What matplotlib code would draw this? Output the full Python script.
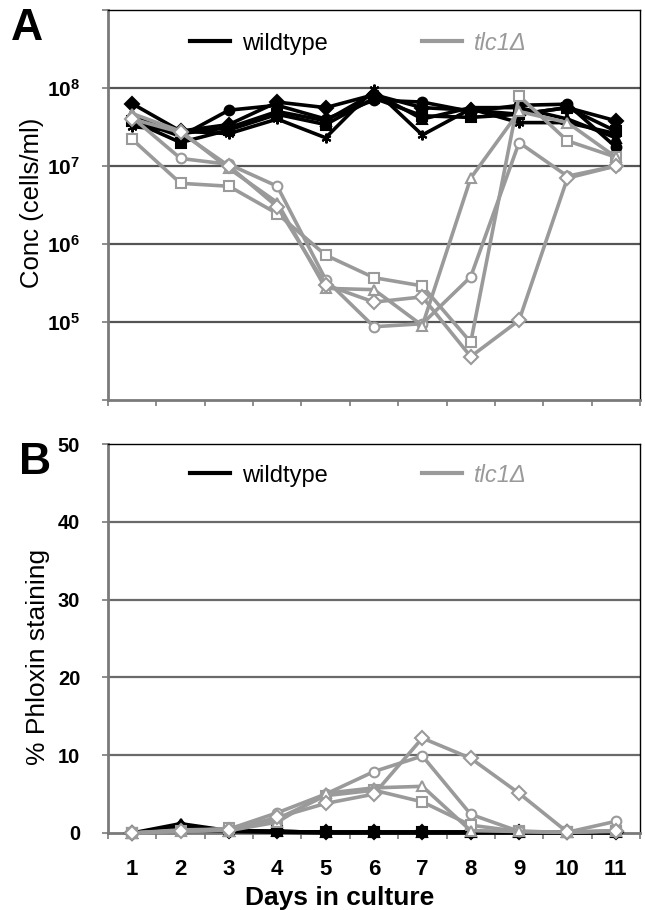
import matplotlib
matplotlib.use("Agg")
import matplotlib.pyplot as plt
from matplotlib.lines import Line2D
from matplotlib.ticker import FixedLocator, NullFormatter, FixedFormatter
import numpy as np

plt.rcParams['font.family'] = ['Liberation Sans', 'DejaVu Sans']
plt.rcParams['mathtext.fontset'] = 'custom'
plt.rcParams['mathtext.rm'] = 'Liberation Sans'
plt.rcParams['mathtext.bf'] = 'Liberation Sans:bold'

days = [1, 2, 3, 4, 5, 6, 7, 8, 9, 10, 11]

# Panel A: concentration (cells/ml)
wt_conc_diamond = [6.3e7, 2.8e7, 3.4e7, 6.6e7, 5.6e7, 8.2e7, 5.6e7, 5.2e7, 4.6e7, 5.6e7, 3.8e7]
wt_conc_square = [3.8e7, 2.0e7, 2.9e7, 4.6e7, 3.4e7, 7.4e7, 4.4e7, 4.2e7, 4.6e7, 5.6e7, 2.8e7]
wt_conc_triangle = [4.6e7, 2.6e7, 3.1e7, 5.0e7, 3.8e7, 8.6e7, 4.0e7, 5.6e7, 5.6e7, 4.0e7, 2.3e7]
wt_conc_star = [3.2e7, 2.8e7, 2.6e7, 4.0e7, 2.3e7, 9.6e7, 2.5e7, 5.4e7, 3.6e7, 3.6e7, 2.6e7]
wt_conc_circle = [4.0e7, 2.4e7, 5.2e7, 6.0e7, 4.0e7, 7.0e7, 6.6e7, 5.0e7, 6.0e7, 6.2e7, 1.75e7]

tlc_conc_square = [2.2e7, 6.0e6, 5.5e6, 2.45e6, 7.2e5, 3.7e5, 2.9e5, 5.5e4, 7.9e7, 2.1e7, 1.3e7]
tlc_conc_circle = [4.2e7, 1.25e7, 1.05e7, 5.5e6, 3.5e5, 8.7e4, 9.5e4, 3.8e5, 2.0e7, 7.4e6, 1.0e7]
tlc_conc_triangle = [4.7e7, 2.8e7, 9.3e6, 3.4e6, 2.7e5, 2.6e5, 9.0e4, 7.0e6, 5.0e7, 3.6e7, 1.3e7]
tlc_conc_diamond = [4.0e7, 2.7e7, 1.0e7, 3.0e6, 3.0e5, 1.8e5, 2.1e5, 3.6e4, 1.05e5, 7.0e6, 1.0e7]

# Panel B: % phloxin staining
wt_phlox_diamond = [0.0, 0.8, 0.3, 0.2, 0.1, 0.1, 0.1, 0.1, 0.1, 0.1, 0.1]
wt_phlox_square = [0.0, 0.5, 0.2, 0.2, 0.1, 0.1, 0.1, 0.1, 0.1, 0.1, 0.1]
wt_phlox_triangle = [0.0, 1.2, 0.3, 0.2, 0.1, 0.1, 0.1, 0.1, 0.1, 0.1, 0.1]
wt_phlox_star = [0.0, 0.6, 0.2, 0.1, 0.0, 0.0, 0.0, 0.0, 0.0, 0.0, 0.0]
wt_phlox_circle = [0.0, 0.4, 0.3, 0.2, 0.1, 0.1, 0.1, 0.1, 0.1, 0.1, 0.1]

tlc_phlox_circle = [0.0, 0.4, 0.5, 2.6, 5.0, 7.9, 9.9, 2.4, 0.2, 0.1, 1.5]
tlc_phlox_diamond = [0.0, 0.3, 0.4, 2.0, 3.8, 5.0, 12.2, 9.6, 5.1, 0.1, 0.2]
tlc_phlox_triangle = [0.0, 0.3, 0.3, 1.4, 5.1, 5.8, 6.0, 0.3, 0.2, 0.1, 0.3]
tlc_phlox_square = [0.0, 0.2, 0.6, 1.8, 4.8, 5.5, 4.0, 1.0, 0.2, 0.1, 0.3]

conc_ticks = [1e5, 1e6, 1e7, 1e8]
conc_tick_labels = [r'$\mathbf{10^{5}}$', r'$\mathbf{10^{6}}$', r'$\mathbf{10^{7}}$', r'$\mathbf{10^{8}}$']
phlox_ticks = [0, 10, 20, 30, 40, 50]

GRAY = '#9a9a9a'
BLACK = '#000000'
ASTER = (6, 2, 0)

wt_markers = ['D', 's', '^', ASTER, 'o']
tlc_markers = ['s', 'o', '^', 'D']

fig = plt.figure(figsize=(6.45, 9.1), dpi=100)
W, H = 645, 910
L, R = 108, 640
axA = fig.add_axes([L / W, (H - 400) / H, (R - L) / W, 390 / H])
axB = fig.add_axes([L / W, (H - 833) / H, (R - L) / W, 389 / H])


def style_axes(ax):
    for s in ['top', 'right']:
        ax.spines[s].set_color('black')
        ax.spines[s].set_linewidth(1.0)
    for s in ['left', 'bottom']:
        ax.spines[s].set_color('#7a7a7a')
        ax.spines[s].set_linewidth(2.0)
    ax.set_xlim(0.5, 11.5)
    ax.xaxis.set_major_locator(FixedLocator(days))
    ax.xaxis.set_minor_locator(FixedLocator(np.arange(0.5, 12.0, 1.0)))
    ax.tick_params(axis='x', which='major', length=0)
    ax.tick_params(axis='x', which='minor', length=4, width=1.2, color='#7a7a7a', direction='out')
    ax.tick_params(axis='y', which='major', length=4, width=1.2, color='#7a7a7a', direction='out', pad=16)
    ax.tick_params(axis='y', which='minor', length=0)


def draw_series(ax, wt_list, tlc_list):
    for vals, m in zip(wt_list, wt_markers):
        ax.plot(days, vals, color=BLACK, lw=2.6, marker=m, ms=7,
                mfc=BLACK, mec=BLACK, mew=1.5, clip_on=False, zorder=3)
    for vals, m in zip(tlc_list, tlc_markers):
        ax.plot(days, vals, color=GRAY, lw=2.6, marker=m, ms=7,
                mfc='white', mec=GRAY, mew=1.5, clip_on=False, zorder=4)


def add_legend(ax, y):
    handles = [Line2D([], [], color=BLACK, lw=3), Line2D([], [], color=GRAY, lw=3)]
    leg = ax.legend(handles, ['wildtype', 'tlc1Δ'], ncol=2, frameon=False,
                    loc='center', bbox_to_anchor=(0.47, y), fontsize=17,
                    handlelength=1.7, handletextpad=0.5, columnspacing=4.0)
    leg.get_texts()[1].set_color(GRAY)
    leg.get_texts()[1].set_style('italic')


# ---- Panel A ----
style_axes(axA)
axA.set_yscale('log')
axA.set_ylim(1e4, 1e9)
axA.yaxis.set_major_locator(FixedLocator([1e4] + conc_ticks + [1e9]))
axA.yaxis.set_major_formatter(FixedFormatter([''] + conc_tick_labels + ['']))
axA.yaxis.set_minor_locator(FixedLocator([]))
axA.yaxis.set_minor_formatter(NullFormatter())
axA.xaxis.set_major_formatter(NullFormatter())
for t in conc_ticks:
    axA.axhline(t, color='#555555', lw=1.6, zorder=1)
draw_series(axA,
            [wt_conc_diamond, wt_conc_square, wt_conc_triangle, wt_conc_star, wt_conc_circle],
            [tlc_conc_square, tlc_conc_circle, tlc_conc_triangle, tlc_conc_diamond])
for lab in axA.get_yticklabels():
    lab.set_fontsize(15)
axA.set_ylabel('Conc (cells/ml)', fontsize=18.5, va='center')
axA.yaxis.set_label_coords(-0.143, 0.505)
add_legend(axA, 0.915)

# ---- Panel B ----
style_axes(axB)
axB.set_ylim(0, 50)
axB.yaxis.set_major_locator(FixedLocator(phlox_ticks))
for t in phlox_ticks[1:-1]:
    axB.axhline(t, color='#6a6a6a', lw=1.6, zorder=1)
draw_series(axB,
            [wt_phlox_diamond, wt_phlox_square, wt_phlox_triangle, wt_phlox_star, wt_phlox_circle],
            [tlc_phlox_square, tlc_phlox_circle, tlc_phlox_triangle, tlc_phlox_diamond])
axB.set_xticklabels([str(d) for d in days], fontsize=16, fontweight='bold')
axB.tick_params(axis='x', which='major', pad=19)
for lab in axB.get_yticklabels():
    lab.set_fontsize(14.5)
    lab.set_fontweight('bold')
axB.set_ylabel('% Phloxin staining', fontsize=19, va='center')
axB.yaxis.set_label_coords(-0.132, 0.452)
axB.set_xlabel('Days in culture', fontsize=19, fontweight='bold', va='center')
axB.xaxis.set_label_coords(0.436, -0.168)
add_legend(axB, 0.92)

fig.text(27 / W, 1 - 28 / H, 'A', fontsize=32, fontweight='bold', ha='center', va='center')
fig.text(35 / W, 1 - 462 / H, 'B', fontsize=32, fontweight='bold', ha='center', va='center')

fig.savefig('out.png', dpi=100)
